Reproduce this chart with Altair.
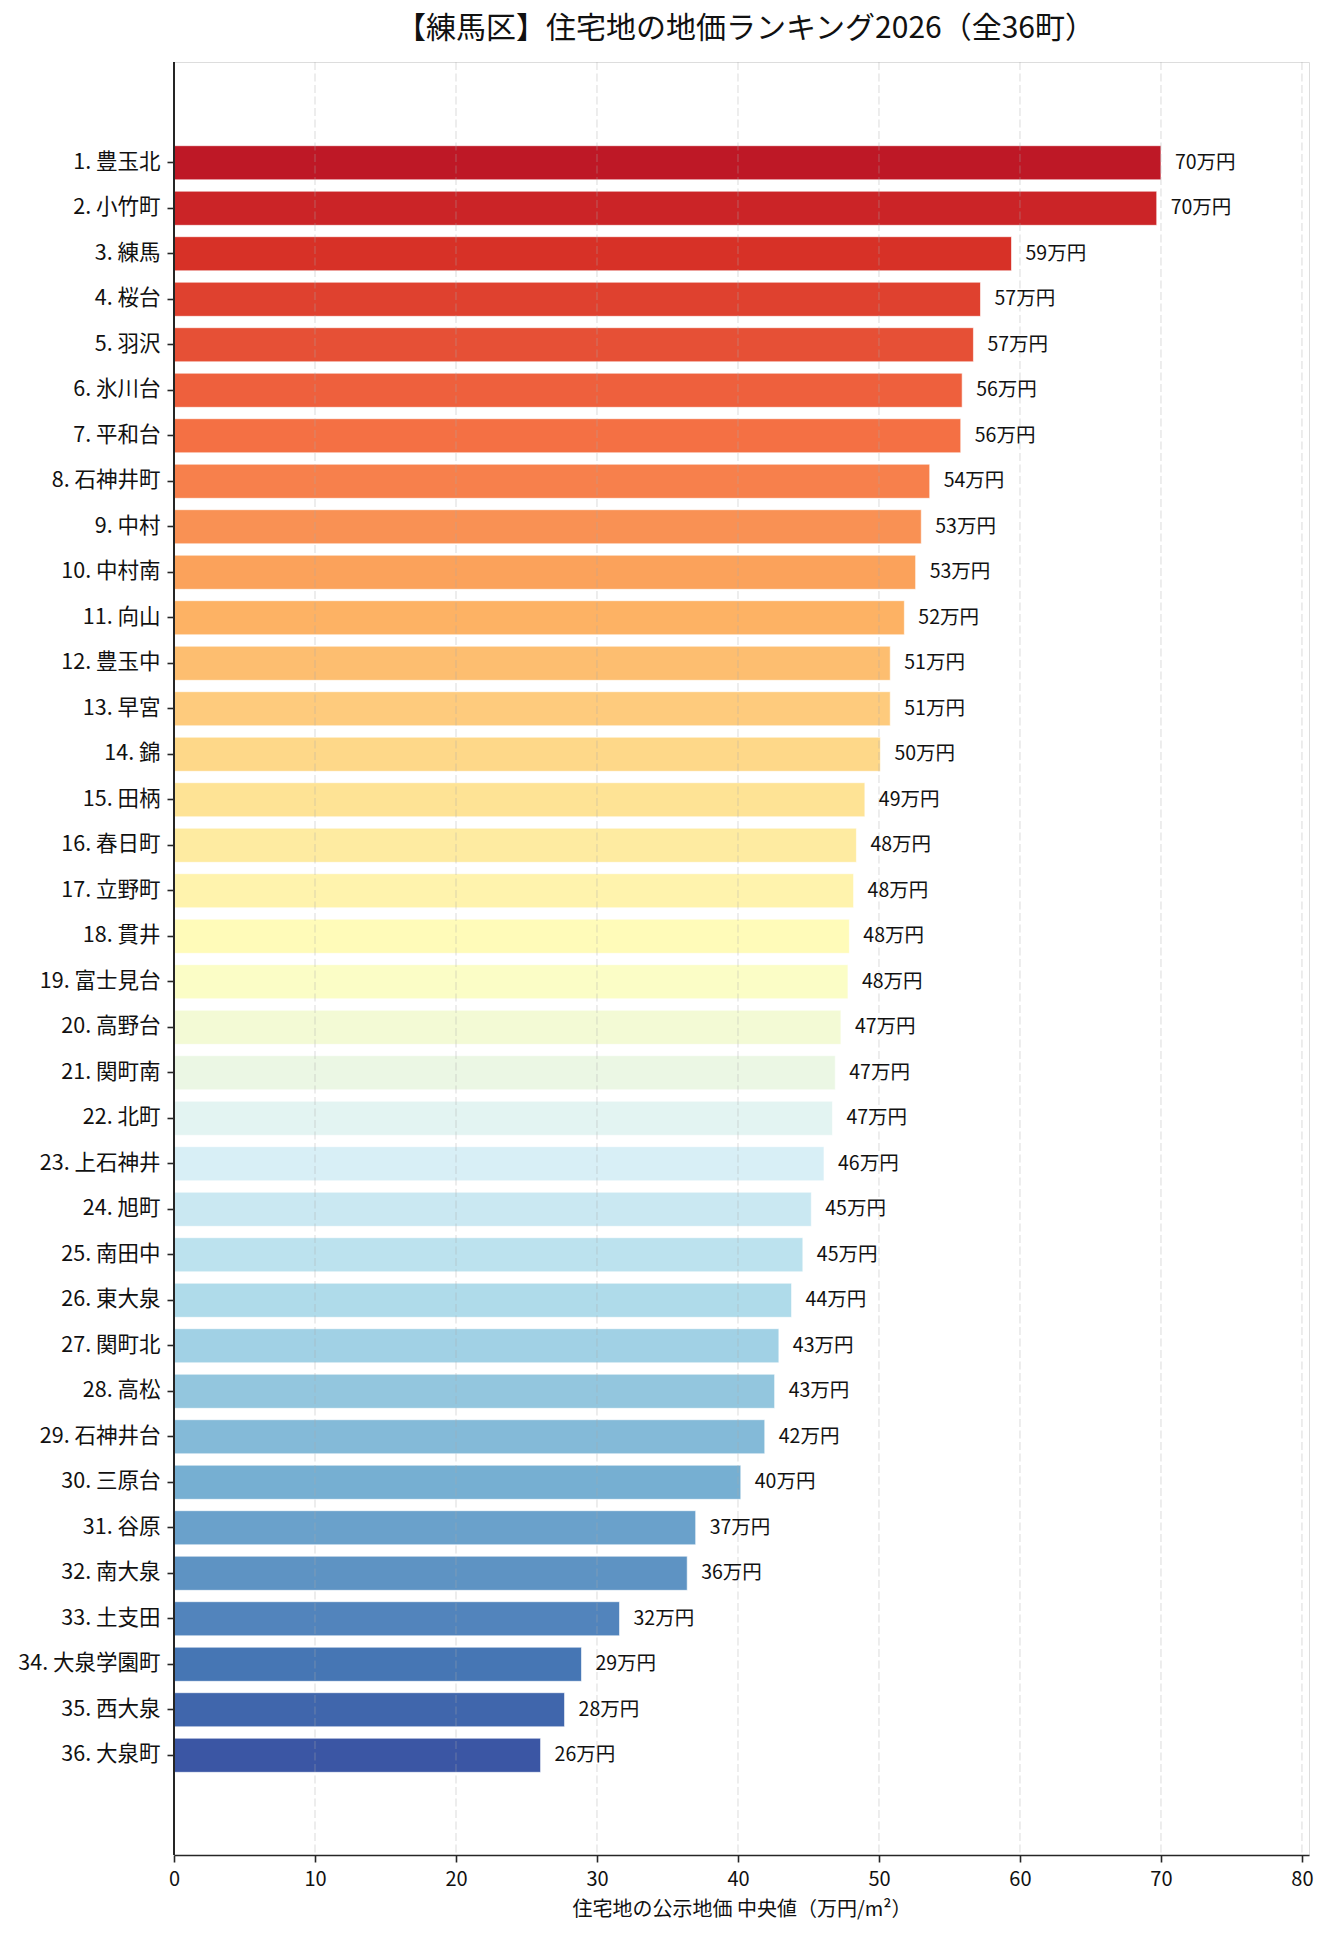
import altair as alt
import pandas as pd

# Town names in rank order and the median published land price (万円/m²)
towns = ["豊玉北", "小竹町", "練馬", "桜台", "羽沢", "氷川台", "平和台", "石神井町",
         "中村", "中村南", "向山", "豊玉中", "早宮", "錦", "田柄", "春日町",
         "立野町", "貫井", "富士見台", "高野台", "関町南", "北町", "上石神井", "旭町",
         "南田中", "東大泉", "関町北", "高松", "石神井台", "三原台", "谷原", "南大泉",
         "土支田", "大泉学園町", "西大泉", "大泉町"]
values = [70.0, 69.7, 59.4, 57.2, 56.7, 55.9, 55.8, 53.6, 53.0, 52.6, 51.8, 50.8,
          50.8, 50.1, 49.0, 48.4, 48.2, 47.9, 47.8, 47.3, 46.9, 46.7, 46.1, 45.2,
          44.6, 43.8, 42.9, 42.6, 41.9, 40.2, 37.0, 36.4, 31.6, 28.9, 27.7, 26.0]
x_ticks = [0, 10, 20, 30, 40, 50, 60, 70, 80]

title_text = "【練馬区】住宅地の地価ランキング2026（全36町）"
x_title = "住宅地の公示地価 中央値（万円/m²）"

labels = [f"{i + 1}. {t}" for i, t in enumerate(towns)]

# Red-to-blue diverging palette (RdYlBu anchors), sampled from 0.05 to 0.95
rdylbu = ["#a50026", "#d73027", "#f46d43", "#fdae61", "#fee090", "#ffffbf",
          "#e0f3f8", "#abd9e9", "#74add1", "#4575b4", "#313695"]


def hex_to_rgb(h):
    return tuple(int(h[k:k + 2], 16) for k in (1, 3, 5))


def sample(t):
    pos = t * (len(rdylbu) - 1)
    i = min(int(pos), len(rdylbu) - 2)
    f = pos - i
    a, b = hex_to_rgb(rdylbu[i]), hex_to_rgb(rdylbu[i + 1])
    return "#" + "".join(f"{round(a[c] + (b[c] - a[c]) * f):02x}" for c in range(3))


n = len(towns)
palette = [sample(0.05 + k * 0.9 / (n - 1)) for k in range(n)]

df = pd.DataFrame({"label": labels, "value": values})
grid_df = pd.DataFrame({"tick": x_ticks})

FONT = "Noto Sans CJK JP"
AXIS_COLOR = "#262626"
PLOT_W, PLOT_H = 1135, 1793

# Band scale laid out inside the plot with generous empty space above and below
y_scale = alt.Scale(paddingInner=0.25, paddingOuter=0.125, range=[78, 1716])
x_scale = alt.Scale(domain=[0, 80.5], nice=False, zero=True)

y_enc = alt.Y(
    "label:N",
    sort=None,
    scale=y_scale,
    axis=alt.Axis(
        title=None, grid=False, labelFontSize=21.5, labelColor="#111111",
        labelFont=FONT, tickSize=7, tickWidth=1.6, tickColor=AXIS_COLOR,
        labelPadding=7, domain=False, labelLimit=400, zindex=1,
    ),
)

bars = alt.Chart(df).mark_bar(
    stroke="white", strokeWidth=1, strokeOpacity=0.6
).encode(
    y=y_enc,
    x=alt.X(
        "value:Q",
        scale=x_scale,
        axis=alt.Axis(
            title=x_title, values=x_ticks, format="d", grid=False,
            labelFontSize=20, labelColor="#111111", labelFont=FONT,
            labelFlush=False, labelOverlap=False,
            tickSize=7, tickWidth=1.6, tickColor=AXIS_COLOR, labelPadding=7,
            domainColor=AXIS_COLOR, domainWidth=1.7,
            titleFontSize=20, titleFont=FONT, titleFontWeight="normal",
            titleColor="#111111", titlePadding=10, zindex=1,
        ),
    ),
    color=alt.Color("label:N", scale=alt.Scale(domain=labels, range=palette), legend=None),
)

# Dashed vertical gridlines at each x tick, spanning the full plot height
grid = alt.Chart(grid_df).mark_rule(
    color="#a8a8a8", opacity=0.35, strokeWidth=1.2, strokeDash=[8, 3.5]
).encode(
    x=alt.X("tick:Q", scale=x_scale),
    y=alt.value(0),
    y2=alt.value(PLOT_H),
)

# Left spine spanning the full plot height
spine = alt.Chart(grid_df).mark_rule(color=AXIS_COLOR, strokeWidth=1.7).encode(
    x=alt.value(0), y=alt.value(0), y2=alt.value(PLOT_H)
)

text = alt.Chart(df).transform_calculate(
    price_label="format(datum.value, '.0f') + '万円'"
).mark_text(
    align="left", baseline="middle", dx=14, fontSize=19.5, font=FONT, color="#111111"
).encode(
    y=alt.Y("label:N", sort=None, scale=y_scale),
    x=alt.X("value:Q", scale=x_scale),
    text="price_label:N",
)

chart = alt.layer(bars, grid, text, spine).properties(
    width=PLOT_W,
    height=PLOT_H,
    title=alt.TitleParams(
        text=title_text, font=FONT, fontSize=30, fontWeight="normal",
        color="#111111", anchor="middle", frame="group", offset=17, dx=4,
    ),
    autosize=alt.AutoSizeParams(type="none"),
    padding={"left": 174, "top": 62, "right": 25, "bottom": 80},
).configure_view(stroke=None).configure(background="white")

chart.save("out.html", embed_options={"renderer": "svg", "actions": False})
